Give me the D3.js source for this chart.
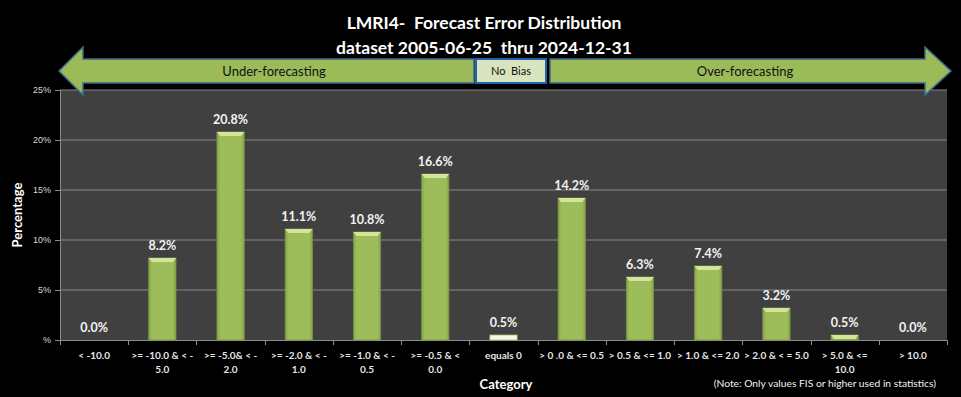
<!DOCTYPE html>
<html>
<head>
<meta charset="utf-8">
<script src="https://cdn.jsdelivr.net/npm/d3@7"></script>
<style>
  body { margin: 0; background: #000; }
  svg { display: block; font-family: Lato, "Open Sans", sans-serif; }
</style>
</head>
<body>
<div id="chart"></div>
<script>
// Data
const categories = ["< -10.0", ">= -10.0 & < -\n5.0", ">= -5.0& < -\n2.0", ">= -2.0 & < -\n1.0",
  ">= -1.0 & < -\n0.5", ">= -0.5 & <\n0.0", "equals 0", "> 0 .0 & <= 0.5", "> 0.5 & <= 1.0",
  "> 1.0 & <= 2.0", "> 2.0 & < = 5.0", "> 5.0 & <=\n10.0", "> 10.0"];
const percents = [0.0, 8.2, 20.8, 11.1, 10.8, 16.6, 0.5, 14.2, 6.3, 7.4, 3.2, 0.5, 0.0];
const yTicks = [0, 5, 10, 15, 20, 25];
const titleLines = ["LMRI4-  Forecast Error Distribution", "dataset 2005-06-25  thru 2024-12-31"];

const W = 961, H = 397;
const plot = {left: 60, right: 947, top: 90, bottom: 340};

const svg = d3.select("#chart").append("svg")
  .attr("width", W).attr("height", H);

svg.append("rect").attr("width", W).attr("height", H).attr("fill", "#000");

const x = d3.scaleBand().domain(categories).range([plot.left, plot.right]).paddingInner(0.6).paddingOuter(0.3);
const y = d3.scaleLinear().domain([0, 25]).range([plot.bottom, plot.top]);

// Plot area
svg.append("rect")
  .attr("x", plot.left).attr("y", plot.top)
  .attr("width", plot.right - plot.left).attr("height", plot.bottom - plot.top)
  .attr("fill", "#404040");

// Gridlines
svg.append("g").selectAll("line")
  .data(yTicks.filter(d => d > 0))
  .join("line")
  .attr("x1", plot.left).attr("x2", plot.right)
  .attr("y1", d => y(d)).attr("y2", d => y(d))
  .attr("stroke", "#878787").attr("stroke-width", 1);

// Y axis
const yAxis = svg.append("g")
  .attr("transform", `translate(${plot.left},0)`)
  .call(d3.axisLeft(y).tickValues(yTicks).tickSize(5).tickFormat(d => d === 0 ? "%" : d + "%"));
yAxis.select(".domain").attr("stroke", "#8c8c8c");
yAxis.selectAll(".tick line").attr("stroke", "#8c8c8c");
yAxis.selectAll("text").attr("fill", "#d9d9d9").attr("font-size", 9).attr("x", -9);

// X axis, ticks at band boundaries
const bounds = categories.map(c => x(c) - x.step() * x.paddingInner() / 2);
bounds.push(plot.right);
const xg = svg.append("g");
xg.append("line").attr("x1", plot.left).attr("x2", plot.right)
  .attr("y1", plot.bottom + 0.5).attr("y2", plot.bottom + 0.5).attr("stroke", "#8c8c8c");
xg.selectAll(".tk").data(bounds).join("line").attr("class", "tk")
  .attr("x1", d => Math.round(d) + 0.5).attr("x2", d => Math.round(d) + 0.5)
  .attr("y1", plot.bottom).attr("y2", plot.bottom + 5).attr("stroke", "#8c8c8c");

const xlab = xg.selectAll(".lab").data(categories).join("text").attr("class", "lab")
  .attr("text-anchor", "middle").attr("fill", "#e6e6e6")
  .attr("font-size", 10).attr("font-weight", "bold")
  .attr("x", d => x(d) + x.bandwidth() / 2).attr("y", 359);
xlab.selectAll("tspan").data(d => d.split("\n")).join("tspan")
  .attr("x", function() { return this.parentNode.getAttribute("x"); })
  .attr("dy", (d, i) => i === 0 ? 0 : 13.5)
  .text(d => d);

// Bars
const defs = svg.append("defs");
const grad = defs.append("linearGradient").attr("id", "barGrad").attr("x1", 0).attr("x2", 1);
grad.append("stop").attr("offset", "0%").attr("stop-color", "#86a34a");
grad.append("stop").attr("offset", "12%").attr("stop-color", "#9dbd5b");
grad.append("stop").attr("offset", "88%").attr("stop-color", "#9dbd5b");
grad.append("stop").attr("offset", "100%").attr("stop-color", "#86a34a");

const bars = svg.append("g").selectAll("g")
  .data(categories.map((c, i) => ({c, v: percents[i]})))
  .join("g");

bars.filter(d => d.v > 0).append("rect")
  .attr("x", d => x(d.c)).attr("width", x.bandwidth())
  .attr("y", d => y(d.v)).attr("height", d => y(0) - y(d.v))
  .attr("fill", d => d.c === "equals 0" ? "#f6f7ee" : "url(#barGrad)")
  .attr("stroke", d => d.c === "equals 0" ? "#9dbd5b" : "#7a9443")
  .attr("stroke-width", 0.8);

// bevel on top of bars
bars.filter(d => d.v > 0 && d.c !== "equals 0").append("path")
  .attr("d", d => {
    const x0 = x(d.c), x1 = x0 + x.bandwidth(), t = y(d.v), h = Math.min(4, y(0) - y(d.v));
    return `M${x0},${t} L${x1},${t} L${x1 - 3},${t + h} L${x0 + 3},${t + h} Z`;
  })
  .attr("fill", "#d2e59a");

// Value labels
bars.append("text")
  .attr("x", d => x(d.c) + x.bandwidth() / 2)
  .attr("y", d => y(d.v) - 8)
  .attr("text-anchor", "middle").attr("fill", "#f2f2f2")
  .attr("font-size", 12.5).attr("font-weight", "bold")
  .text(d => d.v.toFixed(1) + "%");

// Bias arrows
const ay = 71, shaft = 12, head = 24;
const arrowStyle = s => s.attr("fill", "#9bbb59").attr("stroke", "#3d6990").attr("stroke-width", 1.5);
svg.append("path").call(arrowStyle)
  .attr("d", `M59,${ay} L83,${ay - head} L83,${ay - shaft} L474,${ay - shaft} L474,${ay + shaft} L83,${ay + shaft} L83,${ay + head} Z`);
svg.append("path").call(arrowStyle)
  .attr("d", `M550,${ay - shaft} L925,${ay - shaft} L925,${ay - head} L951,${ay} L925,${ay + head} L925,${ay + shaft} L550,${ay + shaft} Z`);
svg.append("rect").attr("x", 476).attr("y", ay - shaft).attr("width", 70).attr("height", shaft * 2)
  .attr("fill", "#d7e4bd").attr("stroke", "#1f64a8").attr("stroke-width", 2);

svg.append("text").attr("x", 274).attr("y", ay + 5).attr("text-anchor", "middle")
  .attr("font-size", 13).attr("fill", "#111").text("Under-forecasting");
svg.append("text").attr("x", 745).attr("y", ay + 5).attr("text-anchor", "middle")
  .attr("font-size", 13).attr("fill", "#111").text("Over-forecasting");
svg.append("text").attr("x", 511).attr("y", ay + 4).attr("text-anchor", "middle")
  .attr("font-size", 11).attr("fill", "#111")
  .style("white-space", "pre").text("No  Bias");

// Titles
svg.append("g").selectAll("text").data(titleLines).join("text")
  .attr("x", 484).attr("y", (d, i) => 29 + i * 25)
  .attr("text-anchor", "middle").attr("fill", "#fff")
  .attr("font-size", 17.5).attr("font-weight", "bold")
  .style("white-space", "pre")
  .text(d => d);

svg.append("text")
  .attr("transform", `translate(22,${(plot.top + plot.bottom) / 2}) rotate(-90)`)
  .attr("text-anchor", "middle").attr("fill", "#fff")
  .attr("font-size", 13).attr("font-weight", "bold").text("Percentage");

svg.append("text").attr("x", 506).attr("y", 389).attr("text-anchor", "middle")
  .attr("fill", "#fff").attr("font-size", 13).attr("font-weight", "bold").text("Category");

svg.append("text").attr("x", 936).attr("y", 387).attr("text-anchor", "end")
  .attr("fill", "#f2f2f2").attr("font-size", 10.3).text("(Note: Only values FIS or higher used in statistics)");
</script>
</body>
</html>
